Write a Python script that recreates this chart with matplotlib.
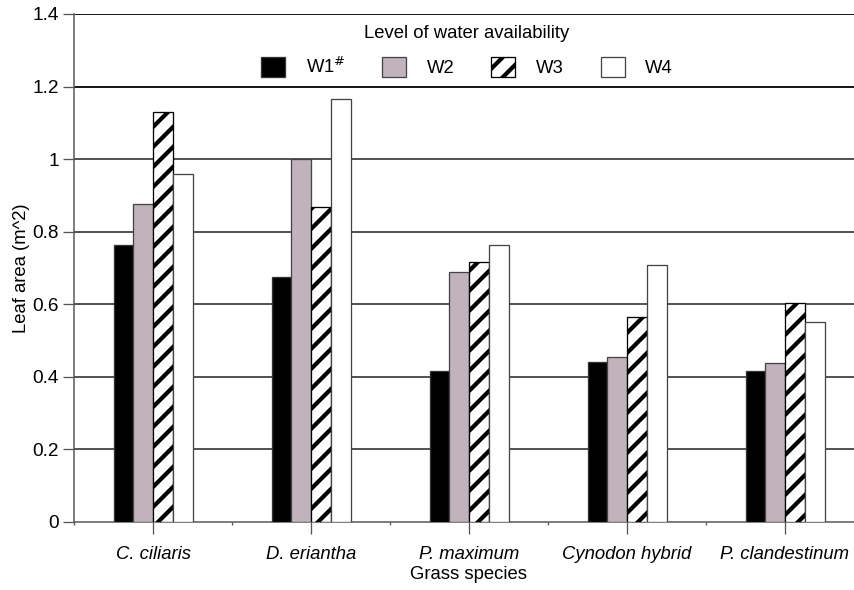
import matplotlib.pyplot as plt
import numpy as np

plt.rcParams['font.family'] = ['Liberation Sans', 'DejaVu Sans']
DPI = 120
pt = lambda px: px * 72 / DPI   # pixel sizes -> points
plt.rcParams['hatch.linewidth'] = pt(4.2)

species = ['C. ciliaris', 'D. eriantha', 'P. maximum', 'Cynodon hybrid', 'P. clandestinum']
levels = ['W1$^{\\#}$', 'W2', 'W3', 'W4']
w1 = [0.764, 0.676, 0.417, 0.441, 0.417]
w2 = [0.877, 1.000, 0.690, 0.455, 0.439]
w3 = [1.131, 0.869, 0.717, 0.566, 0.604]
w4 = [0.960, 1.167, 0.764, 0.709, 0.552]
yticks = [0, 0.2, 0.4, 0.6, 0.8, 1, 1.2, 1.4]
ytick_labels = ['0', '0.2', '0.4', '0.6', '0.8', '1', '1.2', '1.4']

fig = plt.figure(figsize=(854/DPI, 590/DPI), dpi=DPI)
# axes run a little past the right edge, like the original crop
ax = fig.add_axes([74/854, 1-522/590, 790/854, 508/590])

x = np.arange(len(species))
w = 0.125
series = [w1, w2, w3, w4]
faces = ['black', '#c0b3bb', 'white', 'white']
edges = ['#333333', '#444444', 'black', '#444444']
hatches = [None, None, '//', None]
for i, vals in enumerate(series):
    ax.bar(x + (i - 1.5) * w, vals, w, color=faces[i], edgecolor=edges[i],
           linewidth=pt(1.3), hatch=hatches[i], label=levels[i], zorder=3)

ax.set_xlim(-0.5, 4.5)
ax.set_ylim(0, 1.4)
ax.set_yticks(yticks)
ax.set_yticklabels(ytick_labels)
ax.set_xticks(x)
ax.set_xticklabels(species, fontstyle='italic')
ax.set_xticks(np.arange(-0.5, 5, 1), minor=True)
for y in yticks[1:]:
    ax.axhline(y, color='#1a1a1a' if y in (1.2, 1.4) else '#555555', lw=pt(2), zorder=1)

fs = pt(18.5)
for s in ['top', 'right']:
    ax.spines[s].set_visible(False)
ax.spines['left'].set_color('#555555')
ax.spines['bottom'].set_color('#555555')
ax.spines['left'].set_linewidth(pt(1.5))
ax.spines['bottom'].set_linewidth(pt(1.5))
ax.tick_params(axis='y', length=pt(11), width=pt(1.3), color='#555555', labelsize=pt(19), pad=pt(4))
ax.tick_params(axis='x', which='major', length=pt(12), width=pt(1.3), color='#555555', labelsize=fs, pad=pt(12))
ax.tick_params(axis='x', which='minor', length=pt(3), width=pt(1.3), color='#555555')

ax.set_xlabel('Grass species', fontsize=fs, labelpad=pt(3))
ax.set_ylabel('Leaf area (m^2)', fontsize=fs)
ax.yaxis.set_label_coords(-0.056, 0.5)

leg = ax.legend(ncol=4, title='Level of water availability', frameon=False,
                loc='upper center', bbox_to_anchor=(467/854, 0.986), bbox_transform=fig.transFigure,
                fontsize=fs, title_fontsize=fs, handlelength=1.3, handleheight=1.3,
                handletextpad=1.1, columnspacing=2.0, labelspacing=0.3)
leg._legend_box.sep = pt(15)

plt.savefig('out.png', dpi=DPI)
